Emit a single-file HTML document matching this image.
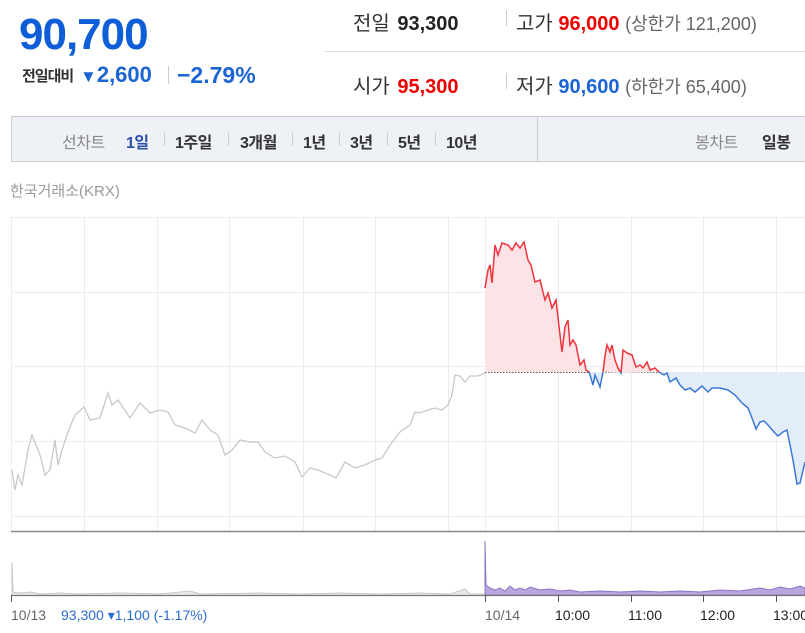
<!DOCTYPE html>
<html><head><meta charset="utf-8"><style>
body{margin:0;width:805px;height:633px;overflow:hidden;background:#fff;font-family:"Liberation Sans","Noto Sans CJK KR",sans-serif;position:relative}
.a{position:absolute;white-space:nowrap}
.n{position:absolute;top:129px;font-size:16px;font-weight:bold;color:#333;letter-spacing:-0.5px;white-space:nowrap}
.sp{position:absolute;top:132px;width:1px;height:14px;background:#ccc}
</style></head><body>
<div class="a" style="left:19px;top:10px;font-size:44px;font-weight:bold;color:#0e5ed8;letter-spacing:-1px">90,700</div>
<div class="a" style="left:22px;top:65px;font-size:15px;font-weight:bold;color:#333;letter-spacing:-1px">전일대비</div>
<div class="a" style="left:80px;top:62px;font-size:22px;color:#1a64d6;font-weight:bold"><span style="font-size:17px">▼</span>2,600</div>
<div class="a" style="left:168px;top:66px;width:1px;height:18px;background:#ccc"></div>
<div class="a" style="left:177px;top:62px;font-size:23px;color:#1a64d6;font-weight:bold">−2.79%</div>
<div class="a" style="left:325px;top:51px;width:480px;height:1px;background:#ddd"></div>
<div class="a" style="left:353px;top:7px;font-size:20px;color:#333">전일 <b style="color:#222;margin-left:2px">93,300</b></div>
<div class="a" style="left:506px;top:10px;width:1px;height:16px;background:#ccc"></div>
<div class="a" style="left:516px;top:7px;font-size:20px;color:#333">고가 <b style="color:#e00">96,000</b> <span style="color:#666;font-size:18px">(상한가 121,200)</span></div>
<div class="a" style="left:353px;top:70px;font-size:20px;color:#333">시가 <b style="color:#e00;margin-left:2px">95,300</b></div>
<div class="a" style="left:506px;top:73px;width:1px;height:16px;background:#ccc"></div>
<div class="a" style="left:516px;top:70px;font-size:20px;color:#333">저가 <b style="color:#1a64d6">90,600</b> <span style="color:#666;font-size:18px">(하한가 65,400)</span></div>
<div class="a" style="left:11px;top:116px;width:800px;height:44px;background:#eef1f6;border:1px solid #c8ccd2"></div>
<div class="a" style="left:537px;top:117px;width:1px;height:44px;background:#c8ccd2"></div>
<div class="n" style="left:62px;color:#888;font-weight:normal">선차트</div>
<div class="n" style="left:126px;color:#2c4fa8">1일</div>
<div class="sp" style="left:164px"></div>
<div class="n" style="left:175px">1주일</div>
<div class="sp" style="left:228px"></div>
<div class="n" style="left:240px">3개월</div>
<div class="sp" style="left:292px"></div>
<div class="n" style="left:303px">1년</div>
<div class="sp" style="left:339px"></div>
<div class="n" style="left:350px">3년</div>
<div class="sp" style="left:387px"></div>
<div class="n" style="left:398px">5년</div>
<div class="sp" style="left:435px"></div>
<div class="n" style="left:446px">10년</div>
<div class="n" style="left:695px;color:#888;font-weight:normal">봉차트</div>
<div class="n" style="left:762px">일봉</div>
<div class="a" style="left:10px;top:180px;font-size:15px;color:#999">한국거래소(KRX)</div>
<svg class="a" style="left:0;top:0" width="805" height="633">
<defs>
<clipPath id="up"><rect x="0" y="0" width="805" height="372"/></clipPath>
<clipPath id="dn"><rect x="0" y="372" width="805" height="300"/></clipPath>
</defs>
<g stroke="#ececec" stroke-width="1">
<line x1="11" y1="217.5" x2="805" y2="217.5"/><line x1="11" y1="292.5" x2="805" y2="292.5"/><line x1="11" y1="366.5" x2="805" y2="366.5"/><line x1="11" y1="441.5" x2="805" y2="441.5"/><line x1="11" y1="516.5" x2="805" y2="516.5"/>
<line x1="11.5" y1="217" x2="11.5" y2="531"/><line x1="84.5" y1="217" x2="84.5" y2="531"/><line x1="157.5" y1="217" x2="157.5" y2="531"/><line x1="229.5" y1="217" x2="229.5" y2="531"/><line x1="303.5" y1="217" x2="303.5" y2="531"/><line x1="375.5" y1="217" x2="375.5" y2="531"/><line x1="448.5" y1="217" x2="448.5" y2="531"/><line x1="485.5" y1="217" x2="485.5" y2="531"/><line x1="558.5" y1="217" x2="558.5" y2="531"/><line x1="631.5" y1="217" x2="631.5" y2="531"/><line x1="703.5" y1="217" x2="703.5" y2="531"/><line x1="776.5" y1="217" x2="776.5" y2="531"/>
</g>
<line x1="11" y1="531.5" x2="805" y2="531.5" stroke="#888" stroke-width="1.5"/>
<polyline fill="none" stroke="#c8c8c8" stroke-width="1.3" points="12,470 15,490 18,475 22,485 28,450 32,435 36,445 40,455 45,475 50,470 55,440 58,465 62,450 68,432 75,415 84,407 90,420 100,418 108,393 112,405 118,400 130,418 140,403 150,413 160,410 168,412 175,425 185,428 195,433 202,420 210,430 218,435 225,455 232,450 240,440 250,442 258,442 265,452 275,458 285,456 295,462 302,477 310,468 318,470 330,475 336,478 345,462 355,468 365,465 375,460 382,458 390,445 400,432 410,425 415,412 420,413 428,410 435,408 442,410 448,405 452,395 455,375 460,376 465,382 470,376 478,376 485,373"/>
<line x1="485" y1="372.5" x2="805" y2="372.5" stroke="#555" stroke-width="1" stroke-dasharray="1.5,1.5"/>
<polygon clip-path="url(#up)" fill="#fde3e5" points="485,372 485,288 488,270 490,265 492,283 495,245 498,255 502,243 508,245 512,250 516,243 520,248 524,242 528,260 531,265 535,282 540,280 545,300 548,293 552,308 556,300 560,335 562,352 565,327 568,320 570,345 573,340 576,345 578,355 580,365 584,360 586,370 589,372 590,375 593,385 595,375 598,382 600,387 603,372 605,356 607,345 610,352 612,345 615,360 618,368 621,373 623,350 627,353 632,355 636,367 640,365 643,368 647,362 650,370 655,368 659,372 664,375 805,372"/>
<polygon clip-path="url(#dn)" fill="#e3edfa" points="485,372 580,365 584,360 586,370 589,372 590,375 593,385 595,375 598,382 600,387 603,372 621,373 659,372 664,375 667,373 670,382 676,378 680,385 685,390 690,388 695,392 702,386 708,392 712,388 720,388 728,390 735,395 742,403 748,408 752,418 756,429 760,422 764,421 768,425 774,432 778,436 783,432 787,430 790,445 793,460 797,484 800,483 805,462 805,372"/>
<polyline clip-path="url(#up)" fill="none" stroke="#f0323c" stroke-width="1.5" points="485,288 488,270 490,265 492,283 495,245 498,255 502,243 508,245 512,250 516,243 520,248 524,242 528,260 531,265 535,282 540,280 545,300 548,293 552,308 556,300 560,335 562,352 565,327 568,320 570,345 573,340 576,345 578,355 580,365 584,360 586,370 589,372 590,375 593,385 595,375 598,382 600,387 603,372 605,356 607,345 610,352 612,345 615,360 618,368 621,373 623,350 627,353 632,355 636,367 640,365 643,368 647,362 650,370 655,368 659,372 664,375"/>
<polyline clip-path="url(#dn)" fill="none" stroke="#3a78d8" stroke-width="1.5" points="580,365 584,360 586,370 589,372 590,375 593,385 595,375 598,382 600,387 603,372 605,356 615,360 618,368 621,373 623,350 655,368 659,372 664,375 667,373 670,382 676,378 680,385 685,390 690,388 695,392 702,386 708,392 712,388 720,388 728,390 735,395 742,403 748,408 752,418 756,429 760,422 764,421 768,425 774,432 778,436 783,432 787,430 790,445 793,460 797,484 800,483 805,462"/>
<polyline fill="#e8e8e8" stroke="#c8c8c8" stroke-width="1" points="12,595 12,562 13,592 20,593 30,592 40,594 60,593 80,594 120,593 160,594 190,591 200,594 260,593 300,594 340,593 380,594 420,593 450,594 465,589 470,594 484,594 484,595"/>
<polygon fill="#b9a6dd" stroke="#8c74c8" stroke-width="1" points="485,595 485,541 486,585 490,588 495,590 500,588 505,591 510,586 515,590 520,588 525,590 530,587 540,590 550,589 560,591 570,590 580,592 600,591 620,592 640,591 660,592 680,591 700,592 720,590 740,591 760,588 770,590 780,587 790,589 800,586 805,588 805,595"/>
<line x1="11" y1="595.5" x2="805" y2="595.5" stroke="#777" stroke-width="1.2"/>
<g stroke="#555" stroke-width="1"><line x1="11.5" y1="595" x2="11.5" y2="602"/><line x1="485.5" y1="595" x2="485.5" y2="602"/><line x1="558.5" y1="595" x2="558.5" y2="602"/><line x1="631.5" y1="595" x2="631.5" y2="602"/><line x1="703.5" y1="595" x2="703.5" y2="602"/><line x1="776.5" y1="595" x2="776.5" y2="602"/></g>
<g font-family="Liberation Sans, sans-serif" font-size="14">
<text x="11" y="620" fill="#666">10/13</text>
<text x="61" y="620" fill="#2a6bd0">93,300 ▾1,100 (-1.17%)</text>
<text x="485" y="620" fill="#666">10/14</text>
<text x="555" y="620" fill="#222">10:00</text>
<text x="628" y="620" fill="#222">11:00</text>
<text x="700" y="620" fill="#222">12:00</text>
<text x="773" y="620" fill="#222">13:00</text>
</g>
</svg>
</body></html>
